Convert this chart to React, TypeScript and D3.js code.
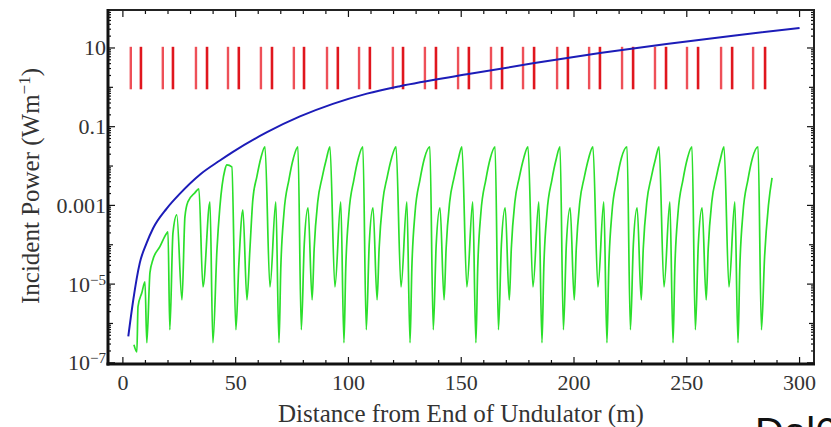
import React from 'react';
import * as d3 from 'd3';

const WIDTH = 831;
const HEIGHT = 427;

const MARGIN = {
  top: 10,
  right: 17,
  bottom: 63,
  left: 108,
};

// [distance (m), log10 of incident power (W/m)]
const blueCurve: [number, number][] = [
  [2.4, -6.33], [4.6, -5.4], [7.5, -4.46], [10.5, -3.96], [13.4, -3.58],
  [19.4, -3.08], [25.3, -2.7], [34.1, -2.22], [43, -1.86], [48.8, -1.64],
  [63.9, -1.14], [78.5, -0.74], [93.1, -0.42], [108.2, -0.16], [122.8, 0.03],
  [152.5, 0.33], [181.8, 0.61], [211.5, 0.87], [241, 1.1], [270.5, 1.31],
  [300, 1.51],
];

const greenCurve: [number, number][] = [
  [4.9, -6.54], [6.2, -6.72], [6.7, -5.57], [8.4, -5.22], [9.8, -4.94], [10.6, -6.49],
  [12.0, -4.71], [13.3, -4.38], [16.4, -4.05], [19.5, -3.7], [20.0, -3.67], [20.8, -6.16],
  [22.2, -3.7], [23.9, -3.24], [26.2, -5.4], [27.5, -3.29], [28.8, -2.91], [31.9, -2.68],
  [33.7, -2.58], [35.5, -5.07], [38.6, -2.91], [39.9, -6.49], [41.7, -4.13], [43.0, -3.04],
  [45.2, -2.1], [46.1, -1.97], [48.3, -2.02], [50.1, -6.16], [51.4, -4.5], [53.2, -3.11],
  [55.0, -5.4], [56.3, -4.13], [57.6, -2.86], [59.4, -2.27], [61.2, -1.79],
  [63.0, -1.51], [65.2, -5.07], [67.8, -2.91], [69.2, -6.49], [70.0, -4.6], [71.4, -3.2], [73.6, -2.35], [75.6, -1.8],
  [77.6, -1.51], [79.1, -6.16], [80.4, -4.0], [82.1, -3.06], [83.9, -5.4], [84.8, -4.1], [86.4, -2.9], [88.3, -2.3], [90.3, -1.8],
  [91.8, -1.51], [94.0, -5.07], [96.6, -2.91], [98.0, -6.49], [98.8, -4.6], [100.2, -3.2], [102.4, -2.35], [104.4, -1.8],
  [106.4, -1.51], [107.9, -6.16], [109.2, -4.0], [110.9, -3.06], [112.7, -5.4], [113.6, -4.1], [115.2, -2.9], [117.1, -2.3], [119.1, -1.8],
  [121.1, -1.51], [123.3, -5.07], [125.9, -2.91], [127.3, -6.49], [128.1, -4.6], [129.5, -3.2], [131.7, -2.35], [133.7, -1.8],
  [136.1, -1.51], [137.6, -6.16], [138.9, -4.0], [140.6, -3.06], [142.4, -5.4], [143.3, -4.1], [144.9, -2.9], [146.8, -2.3], [148.8, -1.8],
  [150.3, -1.51], [152.5, -5.07], [155.1, -2.91], [156.5, -6.49], [157.3, -4.6], [158.7, -3.2], [160.9, -2.35], [162.9, -1.8],
  [165.0, -1.51], [166.5, -6.16], [167.8, -4.0], [169.5, -3.06], [171.3, -5.4], [172.2, -4.1], [173.8, -2.9], [175.7, -2.3], [177.7, -1.8],
  [179.6, -1.51], [181.8, -5.07], [184.4, -2.91], [185.8, -6.49], [186.6, -4.6], [188.0, -3.2], [190.2, -2.35], [192.2, -1.8],
  [193.8, -1.51], [195.3, -6.16], [196.6, -4.0], [198.3, -3.06], [200.1, -5.4], [201.0, -4.1], [202.6, -2.9], [204.5, -2.3], [206.5, -1.8],
  [208.4, -1.51], [210.6, -5.07], [213.2, -2.91], [214.6, -6.49], [215.4, -4.6], [216.8, -3.2], [219.0, -2.35], [221.0, -1.8],
  [223.5, -1.51], [225.0, -6.16], [226.3, -4.0], [228.0, -3.06], [229.8, -5.4], [230.7, -4.1], [232.3, -2.9], [234.2, -2.3], [236.2, -1.8],
  [237.7, -1.51], [239.9, -5.07], [242.5, -2.91], [243.9, -6.49], [244.7, -4.6], [246.1, -3.2], [248.3, -2.35], [250.3, -1.8],
  [252.3, -1.51], [253.8, -6.16], [255.1, -4.0], [256.8, -3.06], [258.6, -5.4], [259.5, -4.1], [261.1, -2.9], [263.0, -2.3], [265.0, -1.8],
  [266.5, -1.51], [268.7, -5.07], [271.3, -2.91], [272.7, -6.49], [273.5, -4.6], [274.9, -3.2], [277.1, -2.35], [279.1, -1.8],
  [281.6, -1.51], [283.1, -6.16], [284.5, -4.3], [286.2, -3.0], [287.8, -2.3],
];

// vertical red markers come in pairs
const redFirst = [3.5, 17.7, 32.4, 46.6, 61.2, 75.8, 90.5, 104.7, 119.7, 133.9,
  148.6, 163.2, 177.4, 192.5, 206.7, 221.3, 235.9, 250.1, 265.2, 279.4];
const redSecond = [8.0, 22.2, 37.3, 51.4, 66.1, 80.3, 95.3, 109.5, 124.2, 138.8,
  153.4, 168.1, 182.3, 197.3, 211.5, 226.2, 240.8, 255.0, 270.1, 284.7];
const redSpan = [1.03, -0.05];

const yLabelValues = [10, 0.1, 0.001, 1e-5, 1e-7];
const yLabels: [string, string][] = [['10', ''], ['0.1', ''], ['0.001', ''], ['10', '\u22125'], ['10', '\u22127']];

const FONT = '"Liberation Serif", "Times New Roman", serif';

export default function App() {
  const x = d3.scaleLinear()
    .domain([-6.6, 306.4])
    .range([MARGIN.left, WIDTH - MARGIN.right]);

  const y = d3.scaleLog()
    .domain([10 ** -7.03, 10 ** 1.965])
    .range([HEIGHT - MARGIN.bottom, MARGIN.top]);

  const line = d3.line<[number, number]>()
    .x(d => x(d[0]))
    .y(d => y(10 ** d[1]))
    .curve(d3.curveMonotoneX);

  const left = MARGIN.left;
  const right = WIDTH - MARGIN.right;
  const top = MARGIN.top;
  const bottom = HEIGHT - MARGIN.bottom;

  const xMajor = x.ticks(6);
  const xMinor = x.ticks(30).filter(t => t % 50 !== 0);
  const yAll = y.ticks();
  const decade = (t: number) => Math.abs(Math.log10(t) - Math.round(Math.log10(t))) < 1e-9;

  return (
    <svg width={WIDTH} height={HEIGHT} viewBox={`0 0 ${WIDTH} ${HEIGHT}`}
      style={{ position: 'absolute', left: 0, top: 0, background: '#fff' }}>
      <defs>
        <clipPath id="plotArea">
          <rect x={left} y={top} width={right - left} height={bottom - top} />
        </clipPath>
      </defs>

      <g clipPath="url(#plotArea)">
        {redFirst.map((d, i) => (
          <line key={'ra' + i} x1={x(d)} x2={x(d)} y1={y(10 ** redSpan[0])} y2={y(10 ** redSpan[1])}
            stroke="#ee5058" strokeWidth={2.4} />
        ))}
        {redSecond.map((d, i) => (
          <line key={'rb' + i} x1={x(d)} x2={x(d)} y1={y(10 ** redSpan[0])} y2={y(10 ** redSpan[1])}
            stroke="#e0161e" strokeWidth={2.6} />
        ))}
        <path d={line(greenCurve) || ''} fill="none" stroke="#2bdf2b" strokeWidth={1.7} strokeLinejoin="round" />
        <path d={line(blueCurve) || ''} fill="none" stroke="#1c1cb8" strokeWidth={2} />
      </g>

      {/* ticks, pointing inward on all four sides */}
      <g stroke="#111" strokeWidth={1.2}>
        {xMajor.map(t => (
          <g key={'xm' + t}>
            <line x1={x(t)} x2={x(t)} y1={bottom} y2={bottom - 7} />
            <line x1={x(t)} x2={x(t)} y1={top} y2={top + 7} />
          </g>
        ))}
        {xMinor.map(t => (
          <g key={'xn' + t}>
            <line x1={x(t)} x2={x(t)} y1={bottom} y2={bottom - 4} />
            <line x1={x(t)} x2={x(t)} y1={top} y2={top + 4} />
          </g>
        ))}
        {yAll.map(t => {
          const len = yLabelValues.includes(t) ? 7 : decade(t) ? 5 : 3;
          return (
            <g key={'y' + t}>
              <line x1={left} x2={left + len} y1={y(t)} y2={y(t)} />
              <line x1={right} x2={right - len} y1={y(t)} y2={y(t)} />
            </g>
          );
        })}
      </g>

      {/* frame */}
      <rect x={left} y={top} width={right - left} height={bottom - top} fill="none" stroke="#222" strokeWidth={2} />
      <line x1={left} x2={left} y1={top - 1} y2={bottom + 1.5} stroke="#111" strokeWidth={3} />
      <line x1={left - 1.5} x2={right + 1} y1={bottom} y2={bottom} stroke="#111" strokeWidth={3} />

      <g fontFamily={FONT} fontSize={22} fill="#333">
        {xMajor.map(t => (
          <text key={'xl' + t} x={x(t)} y={bottom + 26} textAnchor="middle">{t}</text>
        ))}
        {yLabelValues.map((v, i) => (
          <text key={'yl' + i} x={left - 2} y={y(v) + 7.5} textAnchor="end">
            {yLabels[i][0]}
            {yLabels[i][1] && <tspan fontSize={15} dy={-7}>{yLabels[i][1]}</tspan>}
          </text>
        ))}
      </g>

      <text x={(277 + 645) / 2} y={422} textAnchor="middle" fontFamily={FONT} fontSize={25} fill="#333">
        Distance from End of Undulator (m)
      </text>
      <text transform="translate(39, 186) rotate(-90)" textAnchor="middle"
        fontFamily={FONT} fontSize={25} fill="#333">
        Incident Power (Wm<tspan fontSize={17} dy={-9}>{'\u22121'}</tspan><tspan dy={9}>)</tspan>
      </text>

      <text x={755} y={446} fontFamily='"Liberation Sans", Arial, sans-serif' fontSize={40} fill="#111">Dal6</text>
    </svg>
  );
}
